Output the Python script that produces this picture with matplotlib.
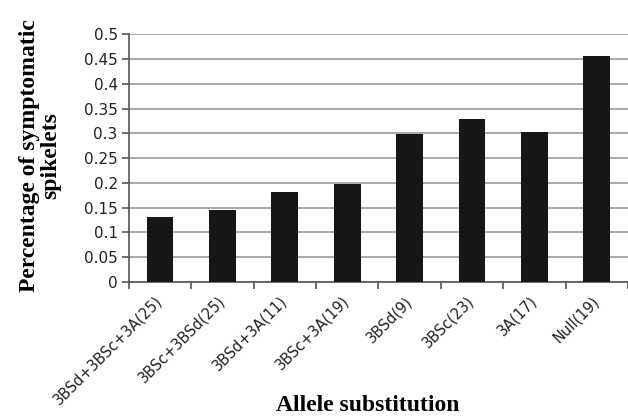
import numpy as np
import matplotlib.pyplot as plt

categories = ["3BSd+3BSc+3A(25)", "3BSc+3BSd(25)", "3BSd+3A(11)", "3BSc+3A(19)",
              "3BSd(9)", "3BSc(23)", "3A(17)", "Null(19)"]
values = [0.130, 0.145, 0.181, 0.197, 0.298, 0.329, 0.302, 0.455]
yticks = [0, 0.05, 0.1, 0.15, 0.2, 0.25, 0.3, 0.35, 0.4, 0.45, 0.5]
ytick_labels = ["0", "0.05", "0.1", "0.15", "0.2", "0.25", "0.3", "0.35", "0.4", "0.45", "0.5"]

fig = plt.figure(figsize=(6.28, 4.17), dpi=100)
ax = fig.add_axes([0.205, 0.324, 0.795, 0.594])

x = np.arange(len(categories))
ax.bar(x, values, width=0.43, color="#161616", zorder=3)

ax.set_xlim(-0.5, len(categories) - 0.5)
ax.set_ylim(0, 0.5)
ax.set_yticks(yticks)
ax.set_yticklabels(ytick_labels, fontsize=11, family="DejaVu Sans", color="#222222")
ax.yaxis.grid(True, color="#9a9a9a", linewidth=1.2, zorder=0)

# ticks between categories
ax.set_xticks(np.arange(len(categories) + 1) - 0.5)
ax.set_xticklabels([])
ax.set_xticks(x, minor=True)
ax.set_xticklabels(categories, minor=True, rotation=45, ha="right", va="center",
                   rotation_mode="anchor", fontsize=10.5, family="DejaVu Sans",
                   color="#222222")
ax.tick_params(axis="x", which="minor", length=0, pad=12)
ax.tick_params(axis="x", which="major", length=5, width=1.2, color="#555555")
ax.tick_params(axis="y", length=5, width=1.2, color="#555555", pad=3)

for s in ["top", "right"]:
    ax.spines[s].set_visible(False)
for s in ["left", "bottom"]:
    ax.spines[s].set_color("#555555")
    ax.spines[s].set_linewidth(1.2)

ax.set_ylabel("Percentage of symptomatic\nspikelets", fontsize=17, fontweight="bold",
              family="Liberation Serif", linespacing=1.0)
ax.yaxis.label.set_va("center")
ax.yaxis.set_label_coords(-0.178, 0.51)
fig.text(0.586, 0.015, "Allele substitution", fontsize=17, fontweight="bold",
         family="Liberation Serif", ha="center", va="baseline")

fig.savefig("out.png", dpi=100)
